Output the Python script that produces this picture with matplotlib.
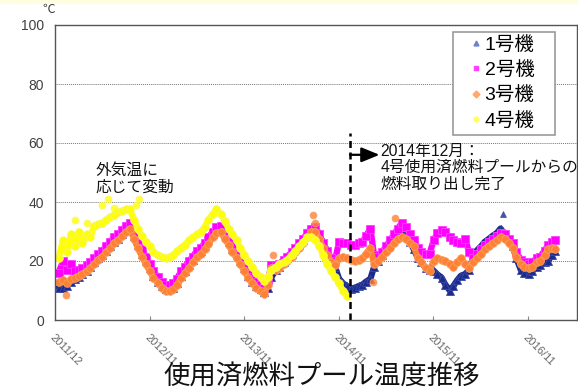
import matplotlib
matplotlib.use("Agg")
import matplotlib.pyplot as plt
from matplotlib.lines import Line2D
from matplotlib.patches import Rectangle
import pandas as pd

plt.rcParams['font.family'] = ['Liberation Sans', 'Noto Sans CJK JP']

# pool temperature (deg C), one reading every half month from 2011-12-15
unit1 = [11, 11, 11.5, 13, 14, 14.5, 15.5, 16.5, 18, 19.5,
         21, 22, 23.5, 25, 26.5, 27.5, 29, 30.5, 31.5, 28.5,
         25.5, 22.5, 20, 17.5, 15, 13, 11.5, 10.5, 10.5, 11,
         12.5, 15, 16.5, 18.5, 20.5, 22.5, 23.5, 25, 27, 29,
         30.5, 31, 29, 26.5, 24, 22, 20, 17.5, 15, 13,
         11.5, 10.5, 9.5, 11, 14.5, 17, 18, 19.5, 21, 22.5,
         24, 25.5, 27, 29, 31, 31.5, 29, 26, 23.5, 20.5,
         18, 14, 12.5, 11.5, 10.5, 11, 11.5, 12, 13, 14,
         18, 20, 22, 24, 26.5, 28, 29.5, 30, 28.5, 26.5,
         24, 21, 19.5, 17.5, 17, 16.7, 15.5, 14.3, 12, 10,
         11.5, 13.5, 15, 15.6, 17, 21, 23.5, 25, 26.5, 27.5,
         28.5, 29.5, 31, 29, 27.5, 25, 21, 17, 16, 15.6,
         16.5, 18, 18.5, 19.5, 20, 22, 23.5]
unit2 = [16, 20, 17, 19, 16.5, 17, 17.5, 18.5, 19.5, 21,
         22.5, 23.5, 25, 26.5, 28, 29, 30.5, 32, 33, 30,
         27, 24, 21.5, 19, 16.5, 14.5, 13, 12, 12, 12.5,
         14, 16.5, 18, 20, 21.5, 23.5, 24.5, 26, 28, 30,
         31.5, 32, 30, 27.5, 25, 23, 21, 18.5, 16.5, 14.5,
         13, 12, 11, 13.5, 18.5, 18.5, 19, 20.5, 21.5, 23,
         24.5, 26, 27.5, 29.5, 31, 31.5, 29, 26, 23.5, 21,
         20, 26.5, 26, 26, 25.5, 25.5, 26, 26.5, 28.5, 31,
         22, 21.5, 23, 25, 27, 29, 31, 33, 31.5, 29,
         27, 24.5, 23, 22.5, 22.5, 27, 29.5, 30.5, 30, 28,
         27, 26.5, 26, 27.5, 23, 21, 22.5, 24, 25.5, 26.5,
         27.5, 28.5, 29.5, 29, 27.5, 26, 23, 20.5, 19.5, 19,
         19.5, 21, 21.5, 23.5, 25.5, 26.5, 27]
unit3 = [13, 13.5, 12.5, 14, 14.3, 15, 15.6, 16.5, 17.7, 19,
         20.5, 21.5, 23, 24.5, 26, 27, 28.5, 30, 31, 27.5,
         24.5, 21.5, 19, 16.5, 14.3, 12.5, 11, 10, 9.9, 10.5,
         12, 14.3, 16, 17.7, 19.5, 21.5, 22.5, 24, 25.8, 28,
         29.5, 30, 27.5, 25.5, 23, 21, 19, 16.5, 14.3, 12.5,
         11, 9.9, 8.8, 12, 17.7, 17, 17.5, 19, 20, 21.5,
         23, 24.5, 26, 28, 30, 30, 27.5, 24.5, 22, 19.5,
         18.5, 21, 21.5, 21, 20.5, 20, 20.5, 21, 22.5, 24.5,
         19, 20, 21.5, 23, 24.5, 26, 27.5, 28, 27.5, 26,
         25, 21, 19.5, 17.5, 16.7, 20, 21, 20.5, 20, 19,
         18, 19.5, 21, 19, 17.7, 19.5, 21, 22.5, 24, 25,
         26, 27, 28, 27.5, 26, 24.5, 21.5, 19, 18, 17.7,
         18, 19.5, 20, 22, 24, 24.5, 24]
unit4 = [21, 27, 23, 29, 25, 30, 26, 29, 28, 32,
         32.5, 33, 34, 35, 35.5, 36.5, 37, 37.5, 37.5, 34,
         31, 28.5, 26.5, 25, 23, 22, 21.5, 21, 21.5, 22,
         23.5, 24.5, 25.5, 27, 28, 29, 30, 31.5, 34, 36,
         37.5, 36, 33.5, 31, 29, 27, 24.5, 22, 20, 18,
         16, 14.5, 13.3, 14.5, 17, 18, 19, 19.5, 20.5, 22,
         23.5, 25, 26.5, 28, 28, 27, 25, 22, 19, 16.5,
         14.5, 12.5, 10, 8]

# single readings standing out of the bands
unit1_odd_dates = ['2016-08-23']
unit1_odd = [36]
unit3_odd_dates = ['2012-01-14', '2014-03-20', '2014-08-24', '2014-08-30', '2015-04-09', '2015-07-03']
unit3_odd = [8.5, 22, 35.5, 33, 13, 34.5]
unit4_odd_dates = ['2012-02-18', '2012-04-01', '2012-06-01', '2012-06-24', '2012-07-14',
                   '2012-10-07', '2012-10-22']
unit4_odd = [34, 33, 39, 41, 38, 39, 41]

unit_names = ['1号機', '2号機', '3号機', '4号機']
tick_labels = ['2011/12', '2012/11', '2013/11', '2014/11', '2015/11', '2016/11']

dates = pd.date_range('2011-12-15', periods=len(unit1), freq='SMS')
dates4 = dates[:len(unit4)]
start = pd.Timestamp('2011-12-01')
removal_done = pd.Timestamp('2015-01-12')

fig = plt.figure(figsize=(5.78, 3.91), dpi=100)
fig.patches.append(Rectangle((0, 1 - 3 / 391), 1, 3 / 391, transform=fig.transFigure,
                             color='#FFFDE0', zorder=0))
ax = fig.add_axes([55 / 578, 71 / 391, 522 / 578, 295 / 391])

styles = [
    (unit1, dates, unit1_odd, unit1_odd_dates, '^', '#1C2A8A', '#3A4AA8'),
    (unit2, dates, [], [], 's', '#FF00FF', '#FF40FF'),
    (unit3, dates, unit3_odd, unit3_odd_dates, 'o', '#FF8033', '#F9A066'),
    (unit4, dates4, unit4_odd, unit4_odd_dates, 'o', '#FFFF00', '#F5F570'),
]
for vals, dd, odd, odd_d, mk, c, ec in styles:
    ax.plot(dd, vals, color=c, lw=4.5, marker=mk, ms=5.5, mfc=c, mec=ec, mew=0.6,
            solid_capstyle='round', solid_joinstyle='round')
    if odd:
        ax.plot(pd.to_datetime(odd_d), odd, ls='none', marker=mk, ms=5, mfc=c, mec=ec,
                mew=0.6, alpha=0.8)

# fuel removal from unit 4 pool completed
ax.plot([removal_done, removal_done], [0, 63.5], color='k', lw=1.8, ls=(0, (2.8, 1.8)))
ax.annotate('', xy=(pd.Timestamp('2015-05-06'), 56), xytext=(removal_done, 56),
            arrowprops=dict(arrowstyle='-|>,head_length=1.1,head_width=0.45', color='k',
                            lw=1.6, shrinkA=0, shrinkB=0, mutation_scale=10))
ax.text(0.623, 0.597, '2014年12月：\n4号使用済燃料プールからの\n燃料取り出し完了',
        transform=ax.transAxes, fontsize=11.3, va='top', ha='left', linespacing=1.1,
        color='#111', clip_on=False)
ax.text(0.077, 0.532, '外気温に\n応じて変動', transform=ax.transAxes, fontsize=11.3,
        va='top', ha='left', linespacing=1.1, color='#111')

ax.set_ylim(0, 100)
ax.set_yticks(range(0, 101, 20))
ax.set_xlim(start, start + pd.Timedelta(days=2014))
ax.set_xticks([start + pd.Timedelta(days=365 * k) for k in range(len(tick_labels))])
ax.set_xticklabels(tick_labels, rotation=-45, ha='left', va='top', rotation_mode='anchor')
ax.tick_params(axis='y', length=0, pad=8, labelsize=10, labelcolor='#404040')
ax.tick_params(axis='x', direction='in', length=3, color='#888', pad=9, labelsize=8,
               labelcolor='#666')
ax.yaxis.grid(True, ls=(0, (1, 1)), color='#777', lw=0.7)
ax.set_axisbelow(True)
for sp in ax.spines.values():
    sp.set_color('#555')
    sp.set_linewidth(1)

# legend box drawn on its own, entries placed inside it
ax.add_patch(Rectangle((0.7625, 0.627), 0.1955, 0.349, transform=ax.transAxes,
                       facecolor='white', edgecolor='#999', lw=1.2, zorder=5))
handles = [
    Line2D([], [], ls='none', marker='^', ms=3.5, color='#7080D0'),
    Line2D([], [], ls='none', marker='s', ms=3.5, color='#FF40FF'),
    Line2D([], [], ls='none', marker='D', ms=3.5, color='#FFA870'),
    Line2D([], [], ls='none', marker='o', ms=3.5, color='#FFFF60'),
]
leg = ax.legend(handles, unit_names, loc='upper left', bbox_to_anchor=(0.795, 0.963),
                frameon=False, fontsize=14, handletextpad=0.15, labelspacing=0.38,
                borderpad=0, handlelength=0.6, borderaxespad=0)
leg.set_zorder(6)

fig.text(49 / 578, 1 - 10 / 391, '℃', fontsize=9, ha='center', va='center', color='#404040')
fig.text(0.557, 0.035, '使用済燃料プール温度推移', ha='center', va='center', fontsize=19,
         color='#111')

fig.savefig('out.png', dpi=100)
